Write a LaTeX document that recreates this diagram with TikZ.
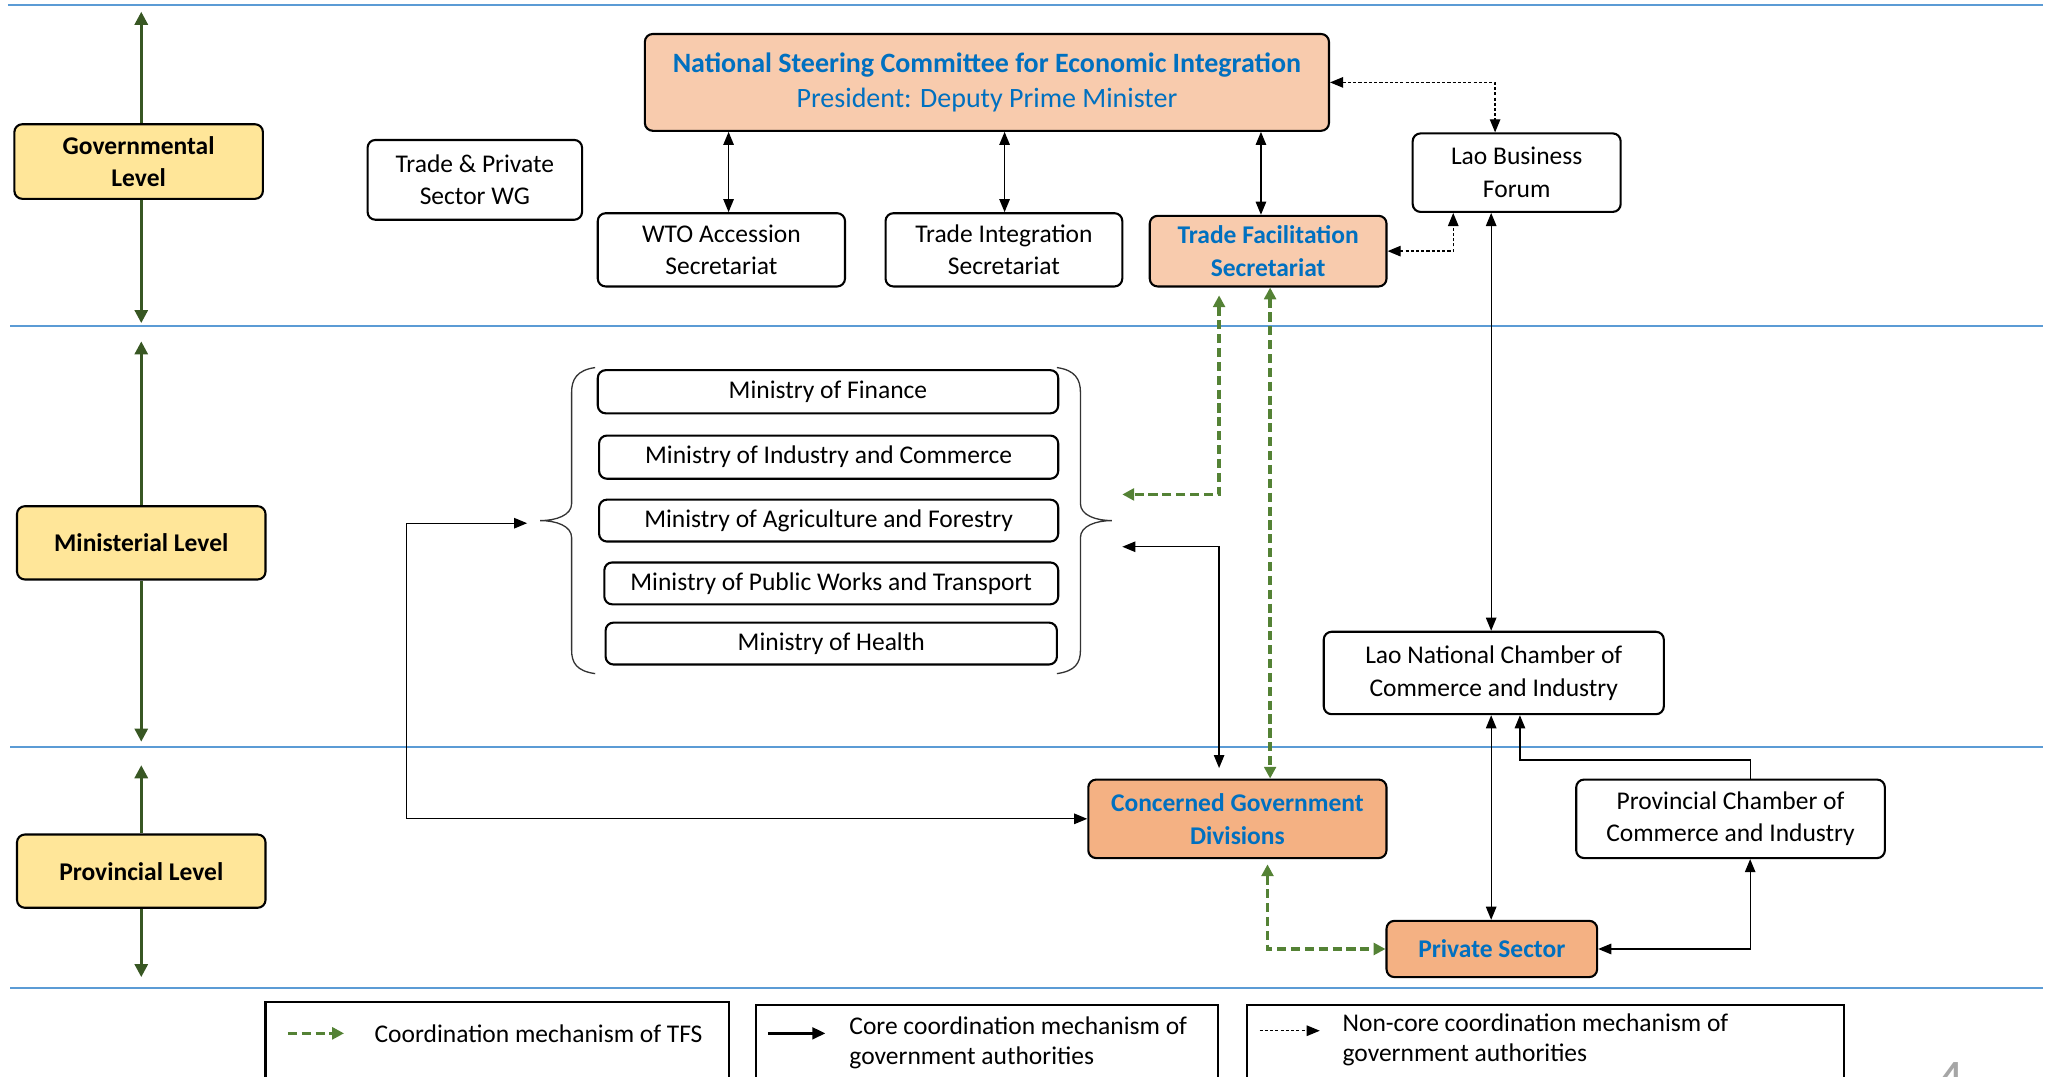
\documentclass[tikz,border=0pt]{standalone}
\usepackage{fontspec}
\setmainfont{Carlito}
\usetikzlibrary{arrows.meta}
\definecolor{lineblue}{HTML}{5B9BD5}
\definecolor{lvlfill}{HTML}{FFE699}
\definecolor{peach}{HTML}{F8CBAD}
\definecolor{orangef}{HTML}{F4B183}
\definecolor{txtblue}{HTML}{0070C0}
\definecolor{lvlgreen}{HTML}{385723}
\definecolor{tfsgreen}{HTML}{548235}
\newcommand\myfs{\fontsize{9.75}{12.5}\selectfont}
\tikzset{
  box/.style={draw=black, line width=0.8pt, rounded corners=3pt, fill=white, align=center, inner sep=1pt, font=\myfs},
  lvlbox/.style={box, fill=lvlfill, font=\myfs\bfseries},
  peachbox/.style={box, fill=peach, text=txtblue, font=\myfs\bfseries},
  orbox/.style={box, fill=orangef, text=txtblue, font=\myfs\bfseries},
  sep/.style={draw=lineblue, line width=0.8pt},
  lvlarrow/.style={draw=lvlgreen, line width=1.1pt, -{Triangle[length=5pt,width=5pt]}},
  core/.style={draw=black, line width=0.5pt},
  coretip/.style={-{Triangle[length=5pt,width=4pt]}},
  bothtip/.style={{Triangle[length=5pt,width=4pt]}-{Triangle[length=5pt,width=4pt]}},
  noncore/.style={draw=black, line width=0.5pt, dash pattern=on 1.2pt off 0.8pt},
  tfsl/.style={draw=tfsgreen, line width=1.3pt, dash pattern=on 3.5pt off 1.8pt},
  gtips/.style={{Triangle[length=4.5pt,width=4.5pt]}-{Triangle[length=4.5pt,width=4.5pt]}},
  bracel/.style={draw=black!80, line width=0.5pt},
  legbox/.style={draw=black, line width=0.8pt},
  legtext/.style={font=\myfs, align=left, inner sep=0pt},
}
\begin{document}
\begin{tikzpicture}[x=0.5pt,y=-0.5pt]
\useasboundingbox (0,0) rectangle (1568,823);
% level separators
\draw[sep] (6,4) -- (1562,4);
\draw[sep] (8,249) -- (1562,249);
\draw[sep] (8,571) -- (1562,571);
\draw[sep] (8,755) -- (1562,755);

% level boxes
\node[lvlbox, minimum width=95pt, minimum height=28.5pt] (gov) at (106,123.5) {Governmental\\Level};
\node[lvlbox, minimum width=95pt, minimum height=28pt] (min) at (108,415) {Ministerial Level};
\node[lvlbox, minimum width=95pt, minimum height=28pt] (prov) at (108,666) {Provincial Level};
\coordinate (g1) at (108,9);   \coordinate (g2) at (108,247);
\coordinate (m1) at (108,261); \coordinate (m2) at (108,567);
\coordinate (p1) at (108,585); \coordinate (p2) at (108,747);
\draw[lvlarrow] (g1 |- gov.north) -- (g1);
\draw[lvlarrow] (g2 |- gov.south) -- (g2);
\draw[lvlarrow] (m1 |- min.north) -- (m1);
\draw[lvlarrow] (m2 |- min.south) -- (m2);
\draw[lvlarrow] (p1 |- prov.north) -- (p1);
\draw[lvlarrow] (p2 |- prov.south) -- (p2);

% governmental level
\node[peachbox, minimum width=261.5pt, minimum height=37pt, font=\fontsize{10.7}{13.5}\selectfont\bfseries] (nsc) at (754.5,63)
  {National Steering Committee for Economic Integration\\{\mdseries President: Deputy Prime Minister}};
\node[box, minimum width=82pt, minimum height=30.5pt] (tpwg) at (363,137.5) {Trade \& Private\\Sector WG};
\node[box, minimum width=94.5pt, minimum height=28pt] (wto) at (551.5,191) {WTO Accession\\Secretariat};
\node[box, minimum width=90.5pt, minimum height=28pt] (tis) at (767.5,191) {Trade Integration\\Secretariat};
\node[peachbox, minimum width=90.5pt, minimum height=27pt] (tfs) at (969.5,192) {Trade Facilitation\\Secretariat};
\node[box, minimum width=79.5pt, minimum height=30pt] (lbf) at (1159.5,132) {Lao Business\\Forum};

% ministries
\node[box, minimum width=176pt, minimum height=16.5pt] (mof) at (633,299.5) {Ministry of Finance};
\node[box, minimum width=175.5pt, minimum height=16.5pt] (mic) at (633.5,349.5) {Ministry of Industry and Commerce};
\node[box, minimum width=175.5pt, minimum height=16pt] (maf) at (633.5,398) {Ministry of Agriculture and Forestry};
\node[box, minimum width=173.5pt, minimum height=16pt] (mpw) at (635.5,446) {Ministry of Public Works and Transport};
\node[box, minimum width=172.5pt, minimum height=16pt] (moh) at (635.5,492) {Ministry of Health};
\draw[bracel] (455,281) .. controls (441,283) and (437,290) .. (437,300) -- (437,385)
  .. controls (437,394) and (425,398) .. (413,398) .. controls (425,398) and (437,402) .. (437,411)
  -- (437,497) .. controls (437,507) and (441,513) .. (455,515);
\draw[bracel] (808,281) .. controls (822,283) and (826,290) .. (826,300) -- (826,385)
  .. controls (826,394) and (838,398) .. (850,398) .. controls (838,398) and (826,402) .. (826,411)
  -- (826,497) .. controls (826,507) and (822,513) .. (808,515);
\coordinate (lb) at (403,400);
\coordinate (rbg) at (858,378);
\coordinate (rbk) at (858,418);

% other nodes
\node[box, minimum width=130pt, minimum height=31.5pt] (lncci) at (1142,514.5) {Lao National Chamber of\\Commerce and Industry};
\node[orbox, minimum width=114pt, minimum height=30pt] (cgd) at (946,626) {Concerned Government\\Divisions};
\node[box, minimum width=118pt, minimum height=30pt] (pcci) at (1323,626) {Provincial Chamber of\\Commerce and Industry};
\node[orbox, minimum width=80.5pt, minimum height=21.5pt] (ps) at (1140.5,725.5) {Private Sector};

% core connectors
\draw[core, bothtip] (557,0 |- nsc.south) -- (557,0 |- wto.north);
\draw[core, bothtip] (768,0 |- nsc.south) -- (768,0 |- tis.north);
\draw[core, bothtip] (964,0 |- nsc.south) -- (964,0 |- tfs.north);
\draw[core, bothtip] (1140,0 |- lbf.south) -- (1140,0 |- lncci.north);
\draw[core, bothtip] (1140,0 |- lncci.south) -- (1140,0 |- ps.north);
\draw[core, coretip] (1338,0 |- pcci.north) -- (1338,581) -| (1162,0 |- lncci.south);
\draw[core, bothtip] (1338,0 |- pcci.south) |- (ps.east);
\draw[core, bothtip, shorten >=4pt] (rbk) -| (932,0 |- cgd.north);
\draw[core, bothtip] (cgd.west) -| (311,400) -- (lb);

% non-core connectors
\draw[noncore, bothtip] (nsc.east) -| (1143,0 |- lbf.north);
\draw[noncore, bothtip] (tfs.east) -| (1111,0 |- lbf.south);

% TFS coordination
\draw[tfsl, gtips, shorten <=3pt] (932,0 |- tfs.south) |- (rbg);
\draw[tfsl, gtips] (971,0 |- tfs.south) -- (971,0 |- cgd.north);
\draw[tfsl, gtips, shorten <=2pt] (969,0 |- cgd.south) |- (ps.west);

% legend
\draw[legbox] (203,824) -- (203,766) -- (557,766) -- (557,824);
\draw[legbox] (578,824) -- (578,768) -- (931,768) -- (931,824);
\draw[legbox] (953,824) -- (953,768) -- (1410,768) -- (1410,824);
\coordinate (la1) at (220,790); \coordinate (la2) at (263,790);
\coordinate (lb1) at (587,790); \coordinate (lb2) at (631,790);
\coordinate (lc1) at (963,788); \coordinate (lc2) at (1009,788);
\draw[tfsl, -{Triangle[length=4.5pt,width=4.5pt]}] (la1) -- (la2);
\draw[core, line width=1pt, -{Triangle[length=5pt,width=4.5pt]}] (lb1) -- (lb2);
\draw[noncore, coretip] (lc1) -- (lc2);
\node[legtext, anchor=west] (lt1) at (286,790) {Coordination mechanism of TFS};
\node[legtext, anchor=west, font=\fontsize{9.75}{11.5}\selectfont] (lt2) at (649,797) {Core coordination mechanism of\\government authorities};
\node[legtext, anchor=west, font=\fontsize{9.75}{11.5}\selectfont] (lt3) at (1026,795) {Non-core coordination mechanism of\\government authorities};
\node[text=black!35, font=\fontsize{22}{22}\selectfont, inner sep=0pt, anchor=north] (pg) at (1491,812) {4};
\end{tikzpicture}
\end{document}
